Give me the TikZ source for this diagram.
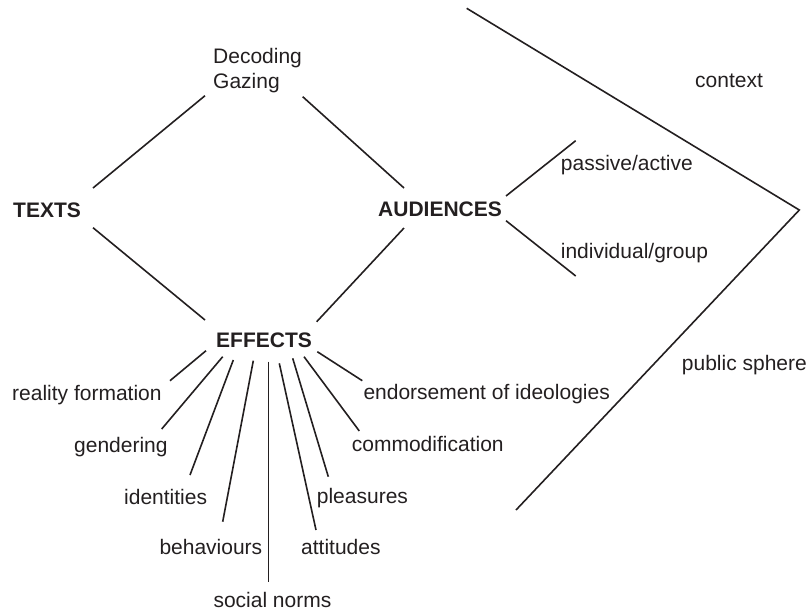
\documentclass[tikz,border=0pt]{standalone}
\usepackage{fontspec}
\setmainfont{Liberation Sans}
\definecolor{ink}{HTML}{231F20}
\begin{document}
\begin{tikzpicture}[x=1pt,y=-1pt,
  lbl/.style={anchor=base west, inner sep=0pt, text=ink,
              font=\fontsize{21}{25.3}\selectfont},
  hd/.style={lbl, font=\fontsize{21}{25.3}\selectfont\bfseries},
  link/.style={draw=ink, line width=1.6pt}]
\useasboundingbox (0,0) rectangle (810,611);

% main terms
\node[lbl, anchor=north west, align=left] (decode) at (213,47.6) {Decoding\\Gazing};
\node[hd] (texts) at (13,217) {TEXTS};
\node[hd] (aud) at (378,216.5) {AUDIENCES};
\node[hd] (eff) at (216,347.3) {EFFECTS};

% audience qualities and context
\node[lbl] (context) at (695,87.3) {context};
\node[lbl] (passive) at (560.7,170.7) {passive/active};
\node[lbl] (indiv) at (560.7,258.3) {individual/group};
\node[lbl] (public) at (681.7,370.5) {public sphere};

% effects
\node[lbl] (reality) at (12,400) {reality formation};
\node[lbl] (gender) at (74,452) {gendering};
\node[lbl] (ident) at (124,504) {identities};
\node[lbl] (behav) at (159.3,554) {behaviours};
\node[lbl] (social) at (213.3,607) {social norms};
\node[lbl] (attit) at (301,554) {attitudes};
\node[lbl] (pleas) at (316.7,503.5) {pleasures};
\node[lbl] (commod) at (351.7,451.7) {commodification};
\node[lbl] (endorse) at (363.3,399.5) {endorsement of ideologies};

% connector end points
\coordinate (tU) at (93,188);    \coordinate (dL) at (205,95.7);
\coordinate (dR) at (302.7,96.7); \coordinate (aU) at (404,188);
\coordinate (tD) at (93,227.7);  \coordinate (eL) at (205,320);
\coordinate (aD) at (404,228);   \coordinate (eR) at (316.7,321.7);
\coordinate (aR1) at (506,196);  \coordinate (pa) at (575.7,140.7);
\coordinate (aR2) at (506,220.7); \coordinate (ig) at (575.7,276);
\coordinate (cTop) at (466.7,8.3); \coordinate (cTip) at (799.3,210);
\coordinate (cBot) at (516,510);

% diamond
\draw[link] (tU) -- (dL);
\draw[link] (dR) -- (aU);
\draw[link] (tD) -- (eL);
\draw[link] (aD) -- (eR);

% audience branches
\draw[link] (aR1) -- (pa);
\draw[link] (aR2) -- (ig);

% context chevron
\draw[link, line join=miter] (cTop) -- (cTip) -- (cBot);

% effect rays
\draw[link] (206,350.7) -- (170,380.7);
\draw[link] (222.7,356.7) -- (161.7,429);
\draw[link] (233.3,360) -- (190,475);
\draw[link] (253.3,360.7) -- (222.7,521.7);
\draw[link] (268.3,361.7) -- (268.3,581.7);
\draw[link] (279.3,363.3) -- (316,530);
\draw[link] (292.7,358.3) -- (328.3,476.7);
\draw[link] (304,356.7) -- (359.3,431);
\draw[link] (317.3,351.7) -- (362.3,380.7);
\end{tikzpicture}
\end{document}
